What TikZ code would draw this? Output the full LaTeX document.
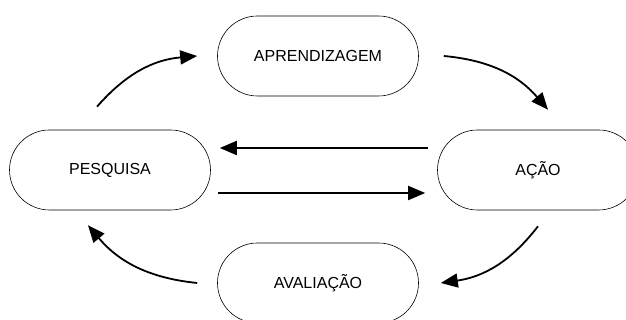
\documentclass[tikz,border=0pt]{standalone}
\usepackage{fontspec}
\setmainfont{Liberation Sans}
\usetikzlibrary{arrows.meta,calc}
\begin{document}
\begin{tikzpicture}[x=1pt,y=1pt,
    etapa/.style={draw,line width=0.6pt,rounded corners=40pt,minimum width=201pt,minimum height=80pt,font=\fontsize{16}{19}\selectfont},
    seta/.style={line width=1.8pt,-{Triangle[length=17pt,width=14pt]}}]
      \useasboundingbox (0,0) rectangle (626,320);
      \draw
        (318,264) node[etapa] (apr){APRENDIZAGEM}
        (110,150) node[etapa] (pesq){PESQUISA}
        (538,150) node[etapa] (acao){AÇÃO}
        (318,37) node[etapa] (aval){AVALIAÇÃO};
      \begin{scope}[seta]
        \draw ($(pesq.north)+(-13,23)$) to[bend left=22] ($(apr.west)+(-20,0)$);
        \draw ($(apr.east)+(25,0)$) to[bend left=22] ($(acao.north)+(10,20)$);
        \draw ($(acao.west)+(-9,22)$) to ($(pesq.east)+(9,22)$);
        \draw ($(pesq.east)+(7,-23)$) to ($(acao.west)+(-12,-23)$);
        \draw ($(acao.south)+(0,-16)$) to[bend left=22] ($(aval.east)+(22,0)$);
        \draw ($(aval.west)+(-20,0)$) to[bend left=22] ($(pesq.south)+(-22,-15)$);
      \end{scope}
    \end{tikzpicture}
\end{document}
